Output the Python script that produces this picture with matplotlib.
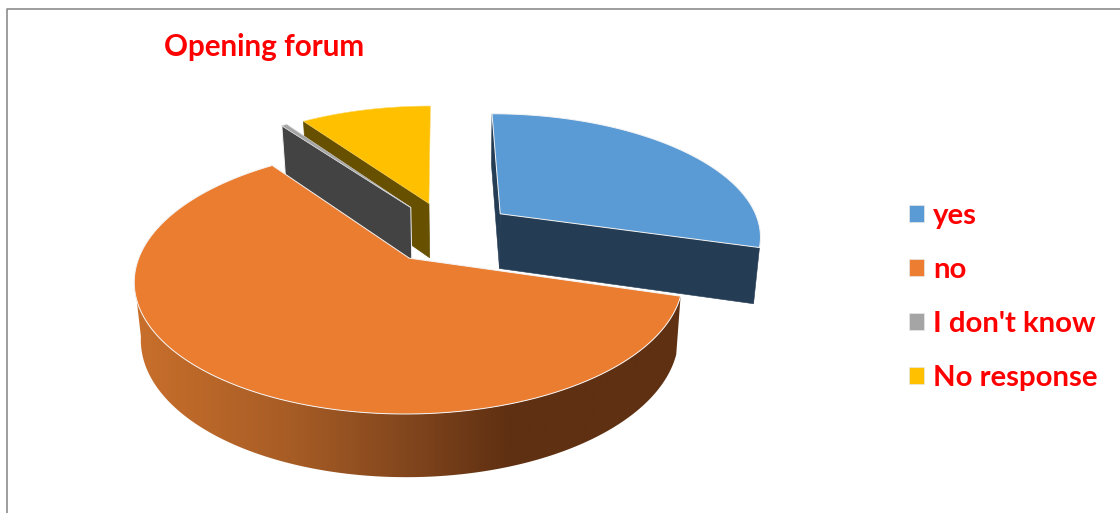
import numpy as np
import matplotlib
matplotlib.use('Agg')
import matplotlib.pyplot as plt
from matplotlib.colors import LinearSegmentedColormap
from matplotlib.patches import Patch, Polygon

categories = ['yes', 'no', "I don't know", 'No response']
shares = [29.5, 60.5, 0.4, 9.6]
top_colors = ['#5B9BD5', '#ED7D31', '#A5A5A5', '#FFC000']
wall_colors = ['#243C54', '#ED7D31', '#434343', '#675000']

chart_title = 'Opening forum'
start_angle = 90.0
explode = 0.255
depth = 55.5


# pie plane (radius 1) to pixels, with a little perspective towards the back
def project(u, v, lower=False):
    w = 1 + 0.1604 * v
    x = 412.5 + 261.5 * (u + 0.135) / w + 3.5 * (v + 0.192)
    y = 256 - 125.3 * (v + 0.192) / w
    if lower:
        x = 413.5 + 0.98 * (x - 412.5)
        y = y + depth / w ** 0.6
    return x, y


def slice_outline(a0, a1, n=120):
    mid = np.radians((a0 + a1) / 2)
    cx, cy = explode * np.cos(mid), explode * np.sin(mid)
    t = np.radians(np.linspace(a0, a1, n))
    return cx, cy, cx + np.cos(t), cy + np.sin(t)


def top_face(a0, a1):
    cx, cy, u, v = slice_outline(a0, a1)
    x, y = project(np.r_[cx, u], np.r_[cy, v])
    return np.column_stack([x, y])


def radial_wall(a0, a1, at):
    # side wall along the cut at angle `at`
    cx, cy, _, _ = slice_outline(a0, a1)
    ou, ov = cx + np.cos(np.radians(at)), cy + np.sin(np.radians(at))
    x0, y0 = project(cx, cy)
    x1, y1 = project(ou, ov)
    x2, y2 = project(ou, ov, lower=True)
    x3, y3 = project(cx, cy, lower=True)
    return [(x0, y0), (x1, y1), (x2, y2), (x3, y3)]


def outer_wall(a0, a1, n=300):
    # stop at the leftmost point, the rest of the rim faces away
    mid = np.radians((a0 + a1) / 2)
    cx, cy = explode * np.cos(mid), explode * np.sin(mid)
    t = np.radians(np.linspace(a0, max(a1, -171), n))
    u, v = cx + np.cos(t), cy + np.sin(t)
    xt, yt = project(u, v)
    xb, yb = project(u, v, lower=True)
    return np.r_[np.column_stack([xt, yt]), np.column_stack([xb, yb])[::-1]]


fig = plt.figure(figsize=(11.2, 5.13), dpi=100, facecolor='white')
ax = fig.add_axes([0, 0, 1, 1])
ax.axis('off')

# slice angles, clockwise from the start angle
spans = np.array(shares) / sum(shares) * 360
stops = start_angle - np.r_[0, np.cumsum(spans)]
angles = {c: (stops[i], stops[i + 1]) for i, c in enumerate(categories)}

# chart frame
ax.plot([6.5, 6.5, 1120], [513, 8.5, 8.5], color='#8C8C8C', lw=1.2, zorder=1)

edge = dict(edgecolor='#F4F4F4', linewidth=0.7, joinstyle='round')

# back slices first, the large one goes on top of everything
a0, a1 = angles['No response']
ax.add_patch(Polygon(radial_wall(a0, a1, a0), fc=wall_colors[3], ec=wall_colors[3], lw=0.5, zorder=2))
ax.add_patch(Polygon(top_face(a0, a1), fc=top_colors[3], ec='#FFD966', lw=0.4, zorder=3))

a0, a1 = angles["I don't know"]
ax.add_patch(Polygon(radial_wall(a0, a1, a0), fc=wall_colors[2], zorder=4, **edge))
ax.add_patch(Polygon(top_face(a0, a1), fc=top_colors[2], ec='#D0D0D0', lw=0.4, zorder=5))

a0, a1 = angles['yes']
ax.add_patch(Polygon(radial_wall(a0, a1, a0), fc=wall_colors[0], ec=wall_colors[0], lw=0.4, zorder=6))
ax.add_patch(Polygon(radial_wall(a0, a1, a1), fc=wall_colors[0], ec=wall_colors[0], lw=0.4, zorder=6))
ax.add_patch(Polygon(top_face(a0, a1), fc=top_colors[0], zorder=7, **edge))

a0, a1 = angles['no']
# rim of the big slice: horizontal gradient clipped to its outline
shade = LinearSegmentedColormap.from_list(
    'rim', [(0, '#CB702C'), (0.3, '#A65C25'), (0.5, '#82461D'), (0.68, '#5F3012'), (1, '#5F3012')])
rim = ax.imshow(np.linspace(0, 1, 600).reshape(1, -1), cmap=shade, aspect='auto',
                extent=(125, 690, 490, 240), zorder=8)
rim.set_clip_path(Polygon(outer_wall(a0, a1), transform=ax.transData))
ax.add_patch(Polygon(top_face(a0, a1), fc='#EB7D31', zorder=9, **edge))

ax.set_xlim(0, 1120)
ax.set_ylim(513, 0)

ax.text(164, 47, chart_title, color='#FF0000', fontsize=21.3, fontweight='bold',
        family='Lato', va='center', ha='left')

handles = [Patch(facecolor=c, edgecolor='#E8E8E8', linewidth=0.5) for c in top_colors]
fig.legend(handles, categories, loc='center left', bbox_to_anchor=(909 / 1120, 1 - 297 / 513),
           frameon=False, labelcolor='#FF0000', handlelength=0.5, handleheight=0.5,
           labelspacing=0.955, handletextpad=0.32, borderpad=0, borderaxespad=0,
           prop={'family': 'Lato', 'weight': 'bold', 'size': 21.2})

fig.savefig('out.png', dpi=100, facecolor='white')
plt.close(fig)
